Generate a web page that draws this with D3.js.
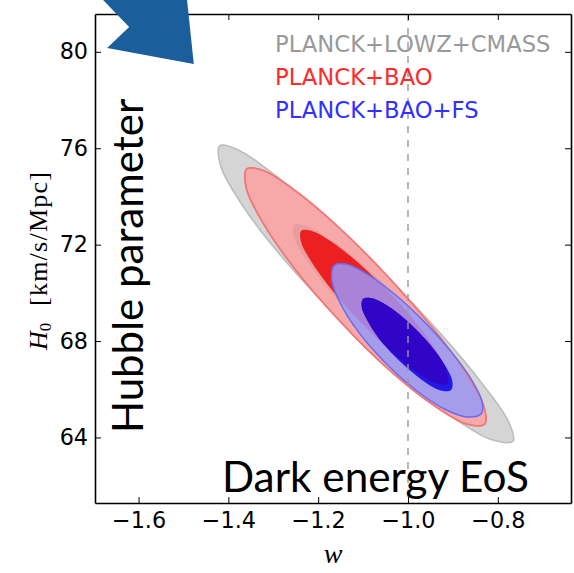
<!DOCTYPE html>
<html>
<head>
<meta charset="utf-8">
<script src="https://cdn.jsdelivr.net/npm/d3@7"></script>
<style>
  html, body { margin: 0; padding: 0; background: #fff; }
  svg { display: block; }
  .tick text { font-family: "DejaVu Sans", sans-serif; font-size: 22.3px; fill: #000; }
</style>
</head>
<body>
<div id="chart"></div>
<script>
// Ticks
const xTicks = [-1.6, -1.4, -1.2, -1.0, -0.8];
const yTicks = [64, 68, 72, 76, 80];

// Contours (w, H0)
const grayOuterW = [-1.419, -1.378, -1.294, -1.179, -1.051, -0.929, -0.833, -0.775, -0.766, -0.813, -0.903, -1.022, -1.151, -1.272, -1.365, -1.416];
const grayOuterH = [76.10, 75.93, 74.85, 73.03, 70.74, 68.34, 66.19, 64.61, 63.85, 63.90, 64.87, 66.61, 68.88, 71.30, 73.53, 75.21];
const grayInnerW = [-1.254, -1.226, -1.173, -1.102, -1.025, -0.952, -0.896, -0.864, -0.862, -0.891, -0.946, -1.018, -1.096, -1.168, -1.223, -1.253];
const grayInnerH = [72.82, 72.78, 72.21, 71.18, 69.85, 68.43, 67.13, 66.15, 65.64, 65.64, 66.19, 67.20, 68.52, 69.95, 71.27, 72.27];
const redOuterW = [-1.359, -1.321, -1.248, -1.152, -1.047, -0.949, -0.873, -0.831, -0.829, -0.870, -0.946, -1.045, -1.150, -1.248, -1.321, -1.360];
const redOuterH = [75.14, 75.07, 74.20, 72.68, 70.72, 68.63, 66.73, 65.29, 64.56, 64.56, 65.37, 66.85, 68.79, 70.90, 72.84, 74.33];
const redInnerW = [-1.238, -1.213, -1.167, -1.107, -1.042, -0.982, -0.937, -0.913, -0.913, -0.937, -0.983, -1.042, -1.107, -1.167, -1.213, -1.238];
const redInnerH = [72.57, 72.56, 72.08, 71.19, 70.02, 68.76, 67.59, 66.70, 66.22, 66.24, 66.74, 67.64, 68.81, 70.07, 71.23, 72.10];
const blueOuterW = [-1.163, -1.136, -1.088, -1.027, -0.962, -0.903, -0.858, -0.835, -0.837, -0.869, -0.921, -0.985, -1.051, -1.110, -1.151, -1.170];
const blueOuterH = [71.16, 71.19, 70.75, 69.90, 68.77, 67.54, 66.38, 65.48, 64.98, 64.85, 65.20, 66.00, 67.11, 68.37, 69.58, 70.56];
const blueInnerW = [-1.100, -1.083, -1.053, -1.015, -0.976, -0.940, -0.914, -0.901, -0.904, -0.922, -0.952, -0.989, -1.029, -1.065, -1.090, -1.103];
const blueInnerH = [69.75, 69.79, 69.55, 69.04, 68.36, 67.60, 66.88, 66.31, 65.97, 65.93, 66.17, 66.68, 67.36, 68.12, 68.84, 69.41];

// Corner arrow, sticks out of the axes at the top
const arrowW = [-1.679, -1.621, -1.670, -1.477, -1.492];
const arrowH = [82.15, 81.03, 80.16, 79.50, 82.15];

const legendLabels = ["PLANCK+LOWZ+CMASS", "PLANCK+BAO", "PLANCK+BAO+FS"];
const legendColors = ["#999999", "#ff2a2a", "#3030ff"];

const zip = (a, b) => a.map((v, i) => [v, b[i]]);

const margin = { top: 14, right: 3, bottom: 70, left: 95 },
    width = 574 - margin.left - margin.right,
    height = 573 - margin.top - margin.bottom;

const root = d3.select("#chart")
    .append("svg")
    .attr("width", 574)
    .attr("height", 573);

const svg = root.append("g")
    .attr("transform", `translate(${margin.left},${margin.top})`);

const x = d3.scaleLinear().domain([-1.697, -0.637]).range([0, width]);
const y = d3.scaleLinear().domain([61.28, 81.57]).range([height, 0]);

const contour = d3.line()
    .x(d => x(d[0]))
    .y(d => y(d[1]))
    .curve(d3.curveCatmullRomClosed.alpha(0.5));

const grayOuter = contour(zip(grayOuterW, grayOuterH)),
    grayInner = contour(zip(grayInnerW, grayInnerH)),
    redOuter = contour(zip(redOuterW, redOuterH)),
    redInner = contour(zip(redInnerW, redInnerH)),
    blueOuter = contour(zip(blueOuterW, blueOuterH)),
    blueInner = contour(zip(blueInnerW, blueInnerH));

const defs = root.append("defs");
defs.append("clipPath").attr("id", "clip-blue-outer").append("path").attr("d", blueOuter);
defs.append("clipPath").attr("id", "clip-blue-inner").append("path").attr("d", blueInner);

// Contours, back to front
const marks = svg.append("g");
marks.append("path").attr("d", grayOuter).attr("fill", "#d5d5d5").attr("stroke", "#bcbcbc").attr("stroke-width", 1.6);
marks.append("path").attr("d", redOuter).attr("fill", "#f7a8a8").attr("stroke", "#f07878").attr("stroke-width", 1.6);
marks.append("path").attr("d", grayInner).attr("fill", "#000").attr("opacity", 0.06);
marks.append("path").attr("d", redInner).attr("fill", "#ec2020");
marks.append("path").attr("d", blueOuter).attr("fill", "#a59ceb");
marks.append("path").attr("d", redInner).attr("fill", "#aa82d6").attr("clip-path", "url(#clip-blue-outer)");
marks.append("path").attr("d", redOuter).attr("fill", "none").attr("stroke", "#f07878").attr("stroke-width", 1.4);
marks.append("path").attr("d", blueOuter).attr("fill", "none").attr("stroke", "#6a6af0").attr("stroke-width", 1.5);
marks.append("path").attr("d", blueInner).attr("fill", "#2318e6");
marks.append("path").attr("d", redInner).attr("fill", "#3005c8").attr("clip-path", "url(#clip-blue-inner)");

// w = -1 line
svg.append("line")
    .attr("x1", x(-1)).attr("x2", x(-1))
    .attr("y1", 0).attr("y2", height)
    .attr("stroke", "#999")
    .attr("stroke-width", 1.4)
    .attr("stroke-dasharray", "7,7");

// Axes, ticks point inwards on all four sides
const axes = svg.append("g");
axes.append("g")
    .attr("transform", `translate(0,${height})`)
    .call(d3.axisBottom(x).tickValues(xTicks).tickFormat(d3.format(".1f")).tickSizeInner(-6).tickSizeOuter(0).tickPadding(9));
axes.append("g")
    .call(d3.axisTop(x).tickValues(xTicks).tickFormat("").tickSizeInner(-6).tickSizeOuter(0));
axes.append("g")
    .call(d3.axisLeft(y).tickValues(yTicks).tickFormat(d3.format("d")).tickSizeInner(-6).tickSizeOuter(0).tickPadding(7));
axes.append("g")
    .attr("transform", `translate(${width},0)`)
    .call(d3.axisRight(y).tickValues(yTicks).tickFormat("").tickSizeInner(-6).tickSizeOuter(0));
axes.selectAll(".domain").attr("stroke", "#000").attr("stroke-width", 1.6);
axes.selectAll(".tick line").attr("stroke", "#000").attr("stroke-width", 1);

// Corner arrow
svg.append("path")
    .attr("d", d3.line().x(d => x(d[0])).y(d => y(d[1]))(zip(arrowW, arrowH)) + "Z")
    .attr("fill", "#1a5f9b");

// Legend
svg.selectAll(".legend")
    .data(legendLabels)
    .join("text")
    .attr("class", "legend")
    .attr("x", 180)
    .attr("y", (d, i) => 38 + i * 33)
    .attr("fill", (d, i) => legendColors[i])
    .style("font-family", '"DejaVu Sans", sans-serif')
    .style("font-size", "22.7px")
    .text(d => d);

// Big annotations
root.append("text")
    .attr("transform", "translate(143,433) rotate(-90)")
    .style("font-family", "Lato, sans-serif")
    .style("font-size", "42px")
    .text("Hubble parameter");

root.append("text")
    .attr("x", 222)
    .attr("y", 492)
    .style("font-family", "Lato, sans-serif")
    .style("font-size", "42.3px")
    .text("Dark energy EoS");

// Axis labels
root.append("text")
    .attr("x", 333)
    .attr("y", 563)
    .attr("text-anchor", "middle")
    .style("font-family", '"Liberation Serif", serif')
    .style("font-style", "italic")
    .style("font-size", "28px")
    .text("w");

const yLabel = root.append("text")
    .attr("transform", "translate(47,350) rotate(-90)")
    .style("font-family", '"Liberation Serif", serif')
    .style("font-size", "26px");
yLabel.append("tspan").style("font-style", "italic").text("H");
yLabel.append("tspan").attr("dy", 4).style("font-size", "17px").text("0");

root.append("text")
    .attr("transform", "translate(47,306) rotate(-90)")
    .attr("textLength", 134)
    .style("font-family", '"Liberation Serif", serif')
    .style("font-size", "26px")
    .text("[km/s/Mpc]");
</script>
</body>
</html>
